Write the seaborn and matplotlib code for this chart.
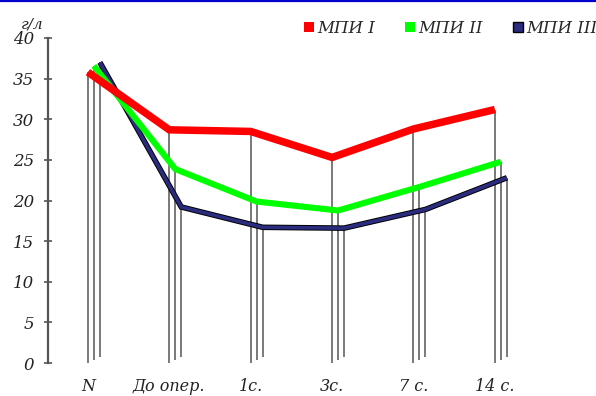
import numpy as np
import pandas as pd
import seaborn as sns
import matplotlib.pyplot as plt
import matplotlib.transforms as mtransforms
import matplotlib.patheffects as pe
from matplotlib.lines import Line2D

# data
periods = ['N', 'До опер.', '1с.', '3с.', '7 с.', '14 с.']
mpi_1 = [35.8, 28.7, 28.5, 25.3, 28.8, 31.2]
mpi_2 = [36.2, 23.5, 19.5, 18.4, 21.3, 24.4]
mpi_3 = [36.2, 18.4, 15.9, 15.8, 18.1, 22.0]
series_names = ['МПИ I', 'МПИ II', 'МПИ III']
y_ticks = [0, 5, 10, 15, 20, 25, 30, 35, 40]

rows = []
for name, vals in zip(series_names, [mpi_1, mpi_2, mpi_3]):
    for i, v in enumerate(vals):
        rows.append({'pos': i, 'period': periods[i], 'value': v, 'series': name})
df = pd.DataFrame(rows)

sns.set_theme(style='white')
plt.rcParams['font.family'] = ['DejaVu Serif']

fig = plt.figure(figsize=(5.96, 3.96), dpi=100)
ax = fig.add_axes([48 / 596, 33 / 396, 512 / 596, 325 / 396])

colors = {'МПИ I': '#ff0000', 'МПИ II': '#00ff00', 'МПИ III': '#2b2b80'}
widths = {'МПИ I': 5.4, 'МПИ II': 4.4, 'МПИ III': 2.6}
# 3d depth offset of each series, in pixels
shift = {'МПИ I': (0, 0), 'МПИ II': (6, 3), 'МПИ III': (12, 6.5)}

# back series first so the front one lies on top
for k, name in enumerate(reversed(series_names)):
    sub = df[df['series'] == name]
    dx, dy = shift[name]
    tr = ax.transData + mtransforms.ScaledTranslation(dx / 100, dy / 100, fig.dpi_scale_trans)
    # drop lines down to the floor
    ax.vlines(sub['pos'], 0, sub['value'], colors='#555555', linewidth=1.1,
              transform=tr, zorder=1)
    kw = dict(solid_joinstyle='miter', solid_capstyle='butt')
    if name == 'МПИ III':
        kw['path_effects'] = [pe.Stroke(linewidth=4.0, foreground='black'), pe.Normal()]
    sns.lineplot(data=sub, x='pos', y='value', color=colors[name], linewidth=widths[name],
                 ax=ax, transform=tr, zorder=2 + k, legend=False, **kw)

ax.set_xlim(-0.49, 5.8)
ax.set_ylim(0, 40)
ax.set_xlabel('')
ax.set_ylabel('')
ax.set_yticks(y_ticks)
ax.set_yticklabels([str(t) for t in y_ticks], fontsize=12, style='italic')
ax.set_xticks(range(len(periods)))
ax.set_xticklabels(periods, fontsize=11.5, style='italic')
# labels sit a bit left, like the floor of the 3d chart
for i, lab in enumerate(ax.get_xticklabels()):
    lab.set_transform(lab.get_transform() +
                      mtransforms.ScaledTranslation(-0.028 * i, 0, fig.dpi_scale_trans))
ax.tick_params(axis='y', direction='inout', length=6, width=1.2, color='#555555', pad=7,
               left=True, labelcolor='#222222')
ax.tick_params(axis='x', length=0, pad=11, labelcolor='#222222')
for s in ['top', 'right', 'bottom']:
    ax.spines[s].set_visible(False)
ax.spines['left'].set_color('#555555')
ax.spines['left'].set_linewidth(1.6)
ax.grid(False)

ax.text(-0.03, 1.03, 'г/л', transform=ax.transAxes, fontsize=11, style='italic', ha='center')

handles = [Line2D([], [], linestyle='none', marker='s', markersize=7.5,
                  markerfacecolor=colors[n], markeredgecolor='black' if n == 'МПИ III' else colors[n],
                  markeredgewidth=1 if n == 'МПИ III' else 0)
           for n in series_names]
leg = fig.legend(handles, series_names, loc='upper left', bbox_to_anchor=(303 / 596, 1 - 20 / 396),
                 ncol=3, frameon=False, handlelength=0.7, handletextpad=0.15, columnspacing=1.75,
                 borderpad=0, borderaxespad=0,
                 prop={'family': 'DejaVu Serif', 'style': 'italic', 'size': 12})

fig.add_artist(Line2D([0, 1], [0.997, 0.997], color='#0000cc', linewidth=1.6,
                      transform=fig.transFigure))

fig.savefig('out.png', dpi=100, facecolor='white')
